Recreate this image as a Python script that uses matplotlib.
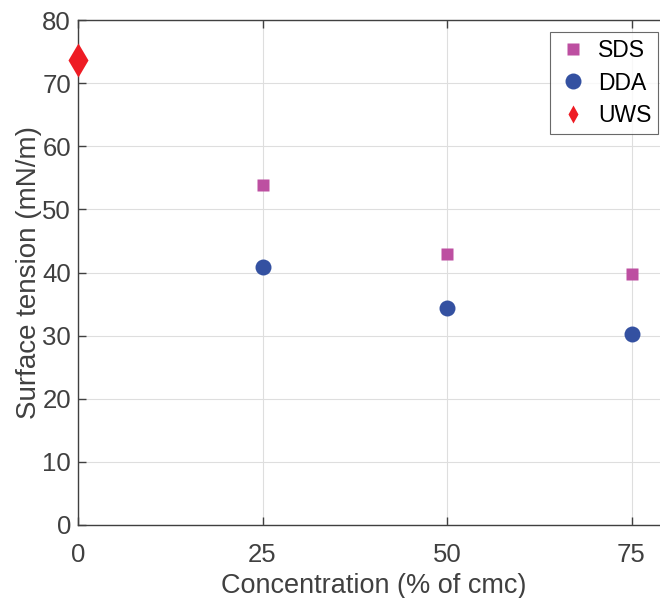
import matplotlib
matplotlib.use("Agg")
import matplotlib.pyplot as plt

plt.rcParams['font.family'] = ['Liberation Sans', 'DejaVu Sans']

x_conc = [25, 50, 75]
sds = [53.9, 43.0, 39.8]
dda = [40.8, 34.3, 30.2]
uws_x = [0]
uws = [73.7]
xticks = [0, 25, 50, 75]
yticks = [0, 10, 20, 30, 40, 50, 60, 70, 80]

fig = plt.figure(figsize=(6.6, 5.98), dpi=100)
ax = fig.add_axes([78/660, 73/598, 590.4/660, 505/598])

ax.plot(x_conc, sds, 's', color='#BD4FA1', ms=8, mec='none', label='SDS', zorder=3)
ax.plot(x_conc, dda, 'o', color='#3451A1', ms=11.5, mec='none', label='DDA', zorder=3)
ax.plot(uws_x, uws, 'd', color='#EE1C24', ms=17, mec='none', label='UWS', zorder=4, clip_on=False)

ax.set_xlim(0, 80)
ax.set_ylim(0, 80)
ax.set_xticks(xticks)
ax.set_yticks(yticks)
ax.grid(True, color='#dedede', lw=0.8)
ax.set_axisbelow(True)
ax.tick_params(direction='in', length=6, width=1, colors='#404040', labelsize=18.5,
               top=True, right=True)
ax.tick_params(axis='x', pad=13)
ax.tick_params(axis='y', pad=5)
for s in ax.spines.values():
    s.set_color('#404040')
    s.set_linewidth(1)

ax.set_xlabel('Concentration (% of cmc)', fontsize=19.5, color='#404040', labelpad=4)
ax.set_ylabel('Surface tension (mN/m)', fontsize=20, color='#404040', labelpad=0)

leg = ax.legend(loc='upper right', bbox_to_anchor=((658-78)/590.4, (525-32)/505),
                fontsize=16.5, frameon=True, fancybox=False, edgecolor='#444444',
                borderpad=0.3, labelspacing=0.42, handletextpad=0.4, handlelength=1.4,
                borderaxespad=0)
leg.get_frame().set_linewidth(0.8)
hs = leg.legend_handles
hs[0].set_markersize(8)
hs[1].set_markersize(11.5)
hs[2].set_markersize(9)

fig.savefig('out.png', dpi=100)
